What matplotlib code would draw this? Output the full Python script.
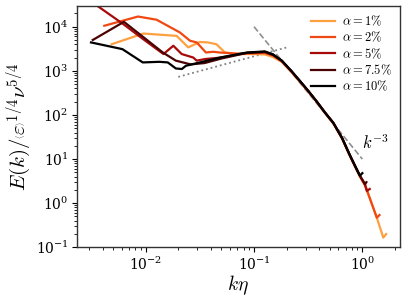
import matplotlib
matplotlib.use("Agg")
import matplotlib.pyplot as plt
import numpy as np

plt.rcParams['mathtext.fontset'] = 'cm'
plt.rcParams['font.family'] = ['DejaVu Serif']

labels = [r'$\alpha=1\%$', r'$\alpha=2\%$', r'$\alpha=5\%$', r'$\alpha=7.5\%$', r'$\alpha=10\%$']
colors = ['#ffa040', '#f04812', '#a80a0a', '#4a0202', '#000000']

k1 = [0.00485, 0.0095, 0.0193, 0.0247, 0.0316, 0.0376, 0.045, 0.054, 0.07, 0.1, 0.126, 0.15, 0.18, 0.22, 0.27, 0.32, 0.38, 0.45, 0.54, 0.65, 0.77, 0.87, 0.95, 1.06, 1.2, 1.36, 1.56, 1.66]
E1 = [4000, 7000, 6200, 3400, 4500, 4400, 4000, 2600, 2400, 2400, 2350, 2050, 1600, 950, 540, 330, 195, 112, 64, 29, 11.5, 6.2, 4.0, 2.5, 1.1, 0.47, 0.166, 0.2]

k2 = [0.00415, 0.0085, 0.0126, 0.0207, 0.0257, 0.0296, 0.036, 0.042, 0.0485, 0.07, 0.1, 0.126, 0.15, 0.18, 0.22, 0.27, 0.32, 0.38, 0.45, 0.54, 0.65, 0.77, 0.87, 0.95, 1.06, 1.2, 1.36, 1.44]
E2 = [10500, 17000, 14400, 7400, 4800, 4400, 2600, 2700, 2600, 2450, 2500, 2550, 2200, 1650, 980, 550, 335, 198, 114, 65, 29.5, 11.7, 6.3, 4.1, 2.6, 1.1, 0.47, 0.54]

k5 = [0.0031, 0.0062, 0.0095, 0.0146, 0.018, 0.0215, 0.0275, 0.0296, 0.0354, 0.05, 0.086, 0.126, 0.15, 0.18, 0.22, 0.27, 0.32, 0.38, 0.45, 0.54, 0.65, 0.77, 0.87, 0.95, 1.06, 1.1, 1.17]
E5 = [38000, 11500, 5200, 2400, 3700, 2400, 2000, 1700, 1850, 2000, 2550, 2650, 2280, 1680, 1000, 555, 338, 200, 115, 66, 30, 12, 6.4, 4.15, 2.6, 1.9, 2.1]

k75 = [0.00325, 0.0063, 0.0144, 0.019, 0.026, 0.035, 0.05, 0.086, 0.126, 0.15, 0.18, 0.22, 0.27, 0.32, 0.38, 0.45, 0.54, 0.65, 0.77, 0.87, 0.95, 1.06, 1.09]
E75 = [5000, 12900, 2600, 1700, 1400, 1500, 1900, 2550, 2700, 2320, 1700, 1000, 558, 340, 200, 115, 66, 30, 12, 6.5, 4.2, 2.7, 3.0]

k10 = [0.00313, 0.0061, 0.0094, 0.0134, 0.016, 0.019, 0.0216, 0.0235, 0.0318, 0.0485, 0.086, 0.126, 0.15, 0.18, 0.22, 0.27, 0.32, 0.38, 0.45, 0.54, 0.65, 0.77, 0.87, 0.95, 1.0]
E10 = [4400, 3100, 1550, 1600, 1550, 1130, 1100, 1300, 1550, 2000, 2600, 2750, 2350, 1720, 1010, 560, 340, 200, 115, 66, 30, 12, 6.5, 4.2, 4.8]

ks = [k1, k2, k5, k75, k10]
Es = [E1, E2, E5, E75, E10]

# reference slopes
kdot = np.array([0.02, 0.2])
Edot = 730 * (kdot / 0.02) ** (2 / 3)
kdash = np.array([0.1, 1.0])
Edash = 10 * kdash ** (-3.0)

fig = plt.figure(figsize=(4.07, 2.98), dpi=100)
ax = fig.add_axes([0.1885, 0.170, 0.7945, 0.81])

ax.plot(kdot, Edot, ':', color='#808080', lw=1.3)
ax.plot(kdash, Edash, '--', color='#909090', lw=1.2)
for k, E, c, lab in zip(ks, Es, colors, labels):
    ax.plot(k, E, '-', color=c, lw=1.6, label=lab)

ax.text(1.0, 22, r'$k^{-3}$', fontsize=12, va='center', ha='left')

ax.set_xscale('log')
ax.set_yscale('log')
ax.set_xlim(2.31e-3, 2.23)
ax.set_ylim(0.1, 2.95e4)
ax.set_xlabel(r'$k\eta$', fontsize=14, labelpad=0)
ax.set_ylabel(r'$E(k)/\left\langle \varepsilon \right\rangle^{1/4}\nu^{5/4}$', fontsize=15, labelpad=2)

ax.tick_params(axis='both', which='major', labelsize=10, length=3.5, width=0.8, pad=2.5)
ax.tick_params(axis='both', which='minor', length=2, width=0.6)
for s in ax.spines.values():
    s.set_linewidth(1.0)
    s.set_color('#333333')

leg = ax.legend(loc='upper right', fontsize=9, frameon=False, handlelength=1.9,
                borderaxespad=0.25, labelspacing=0.15, handletextpad=0.6)

fig.savefig('out.png', dpi=100)
